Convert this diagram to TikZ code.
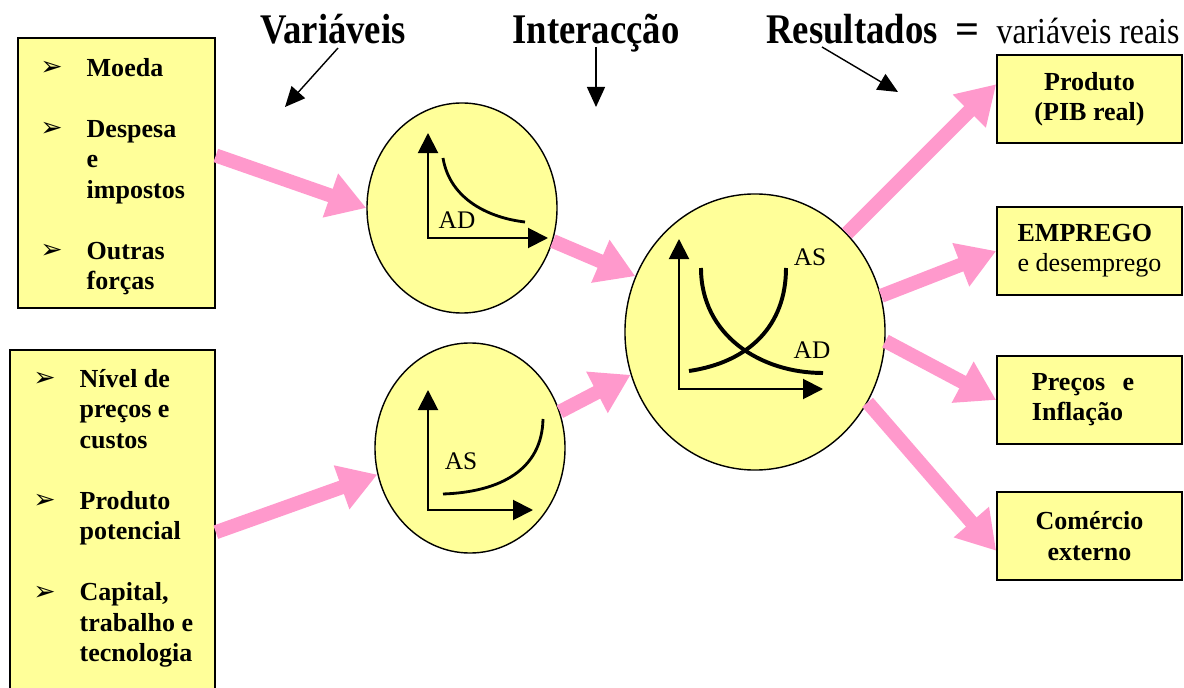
\documentclass[tikz,border=0pt]{standalone}
\usepackage{graphicx}
\usepackage{fontspec}
\setmainfont{Liberation Serif}
\newfontfamily\dingfont{DejaVu Sans}
\usetikzlibrary{arrows.meta,shapes.geometric,calc}
\definecolor{paleyellow}{HTML}{FFFF99}
\definecolor{flowpink}{HTML}{FF99CC}
\newcommand{\itm}[1]{\makebox[33pt][l]{\raisebox{0.5pt}{\dingfont\fontsize{19}{19}\selectfont ➢}}#1}
\newcommand{\cnt}[1]{\hspace*{33pt}#1}
\newcommand{\cond}[1]{\scalebox{0.87}[1]{#1}}
\begin{document}
\begin{tikzpicture}[x=0.025cm, y=-0.025cm,
    ybox/.style={draw, fill=paleyellow, line width=1.1pt, inner sep=0pt},
    bubble/.style={ellipse, draw, fill=paleyellow, line width=1pt, inner sep=0pt},
    listtext/.style={align=left, inner sep=0pt, font=\fontsize{18.5}{21.7}\selectfont\bfseries},
    outbox/.style={ybox, minimum width=4.625cm, minimum height=2.2cm, font=\fontsize{18.5}{21.5}\selectfont},
    title/.style={inner sep=1pt, anchor=base, font=\fontsize{30}{30}\selectfont\bfseries},
    flow/.style={flowpink, line width=10pt, -{Triangle[length=0.95cm, width=1.1cm]}},
    pointer/.style={line width=1pt, -{Triangle[length=0.5cm, width=0.45cm]}},
    axes/.style={line width=1.4pt, {Triangle[length=0.5cm, width=0.5cm]}-{Triangle[length=0.5cm, width=0.5cm]}},
    curvelabel/.style={inner sep=0pt, font=\fontsize{18}{18}\selectfont}]
  \useasboundingbox (0,0) rectangle (1184,688);

  % Input boxes
  \node[ybox, minimum width=4.925cm, minimum height=6.75cm] (varbox) at (116.5,173) {};
  \node[listtext, anchor=north west] (varlist) at (40,58)
    {\itm{Moeda}\\[21.7pt] \itm{Despesa}\\ \cnt{e}\\ \cnt{impostos}\\[21.7pt] \itm{Outras}\\ \cnt{forças}};
  \node[ybox, minimum width=5.125cm, minimum height=8.75cm] (supbox) at (112.5,525) {};
  \node[listtext, anchor=north west] (suplist) at (33,369)
    {\itm{Nível de}\\ \cnt{preços e}\\ \cnt{custos}\\[21.7pt] \itm{Produto}\\ \cnt{potencial}\\[21.7pt]
     \itm{Capital,}\\ \cnt{trabalho e}\\ \cnt{tecnologia}};

  % Bubbles
  \node[bubble, minimum width=4.75cm, minimum height=5.25cm] (adbub) at (462,208) {};
  \node[bubble, minimum width=4.75cm, minimum height=5.25cm] (asbub) at (470,448) {};
  \node[bubble, minimum width=6.5cm, minimum height=6.9cm] (eqbub) at (755,332) {};

  % Output boxes
  \node[outbox, align=center] (outpib) at (1089.5,99) {\textbf{Produto}\\\textbf{(PIB real)}};
  \node[outbox, align=left] (outemp) at (1089.5,251) {\textbf{EMPREGO}\\e desemprego};
  \node[outbox, align=left, text width=2.875cm, inner xsep=0.875cm] (outpre) at (1089.5,400)
    {\textbf{Preços\ \ e}\\\textbf{Inflação}};
  \node[outbox, align=center] (outcom) at (1089.5,536) {\textbf{Comércio}\\\textbf{externo}};

  % AD curve
  \draw[axes] (428,133) -- (428,238) -- (548,238);
  \draw[line width=2pt] (443,158) .. controls (450,200) and (490,218) .. (525,222);
  \node[curvelabel] (adtxt) at (457,220) {AD};

  % AS curve
  \draw[axes] (428,390) -- (428,510) -- (533,510);
  \draw[line width=2pt] (443,494) .. controls (500,492) and (542,470) .. (543,419);
  \node[curvelabel] (astxt) at (461,461) {AS};

  % Interaction
  \draw[axes] (679,239) -- (679,389) -- (823,389);
  \draw[line width=2.8pt] (689,371) .. controls (750,362) and (786,325) .. (786,268);
  \draw[line width=2.8pt] (701,268) .. controls (701,335) and (760,373) .. (823,373);
  \node[curvelabel] (eqas) at (810,257) {AS};
  \node[curvelabel] (eqad) at (812,350) {AD};

  % Pink flows
  \draw[flow] (varbox.10) -- (adbub.west);
  \draw[flow] (adbub.-20) -- (eqbub.155);
  \draw[flow] (supbox.-4) -- (asbub.196);
  \draw[flow] (asbub.22) -- (eqbub.199);
  \draw[flow] (eqbub.47) -- (outpib.171);
  \draw[flow] (eqbub.16) -- (outemp.west);
  \draw[flow] (eqbub.-4) -- (outpre.west);
  \draw[flow] (eqbub.-32) -- (outcom.189);

  % Titles
  \node[title] (tvar) at (333,44) {\cond{Variáveis}};
  \node[title] (tint) at (596,44) {\cond{Interacção}};
  \node[title] (tres) at (852,44) {\cond{Resultados}};
  \node[title] (teq) at (968,44) {=};
  \node[title, font=\fontsize{26}{26}\selectfont] (treal) at (1088,44) {\cond{variáveis reais}};

  % Pointers
  \coordinate (varend) at (285,107);
  \coordinate (intend) at (596,107);
  \coordinate (resend) at (898,92);
  \draw[pointer] ($(tvar.base)+(5,4)$) -- (varend);
  \draw[pointer] ($(tint.base)+(0,3)$) -- (intend);
  \draw[pointer] ($(tres.base)+(-30,3)$) -- (resend);
\end{tikzpicture}
\end{document}
